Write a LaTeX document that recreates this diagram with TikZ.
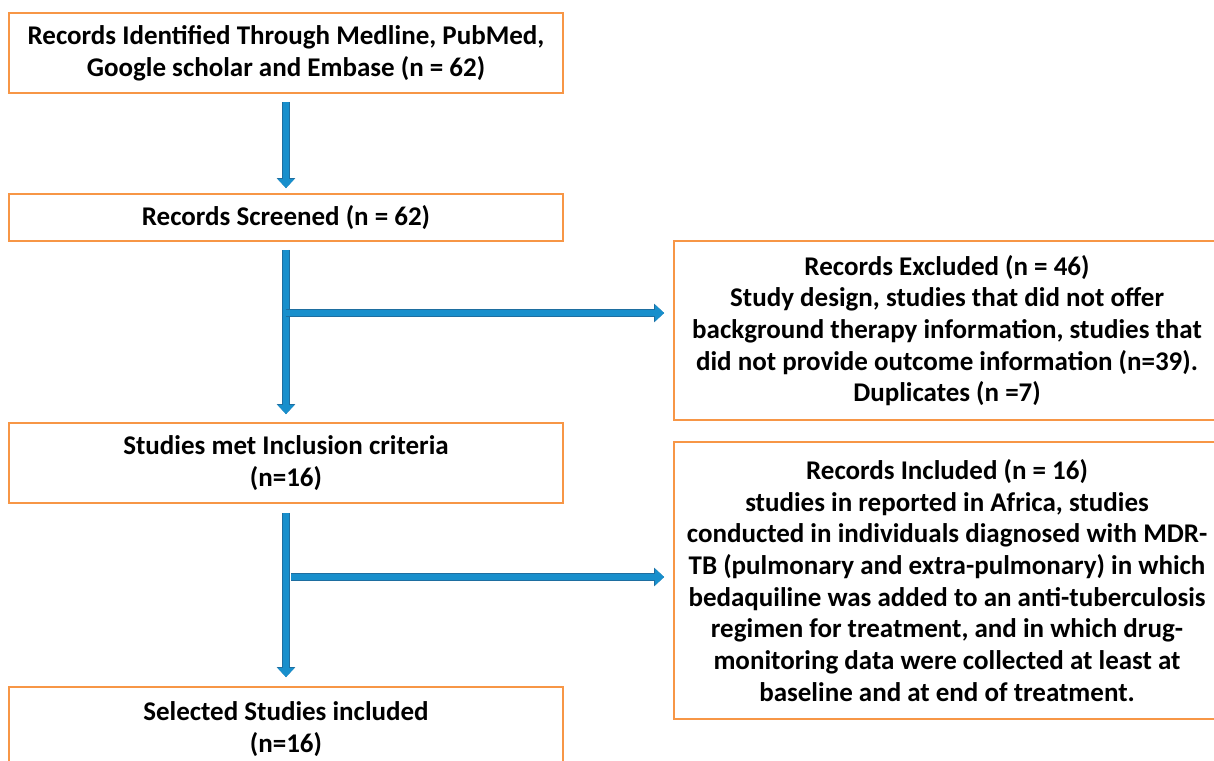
\documentclass[tikz,border=0pt]{standalone}
\usepackage{fontspec}
\setmainfont{Carlito}
\usetikzlibrary{arrows.meta,positioning}
\definecolor{boxorange}{RGB}{247,150,70}
\definecolor{arrowblue}{RGB}{24,143,204}
\definecolor{arrowedge}{RGB}{30,110,160}
\tikzset{
  box/.style={draw=boxorange, line width=1.8pt, minimum width=554pt, inner sep=0pt,
    align=center, font=\fontsize{27}{31.7}\selectfont\bfseries},
  flow/.style={line width=6pt, draw=arrowblue, -{Triangle[width=16pt,length=9pt]},
    preaction={draw=arrowedge, line width=7.4pt, -{Triangle[width=18pt,length=10pt]}}}
}
\begin{document}
\begin{tikzpicture}[x=1pt,y=-1pt]
\useasboundingbox (0,0) rectangle (1214,760);
\clip (0,0) rectangle (1214,760);
% left column
\node[box, minimum height=80pt] (ident) at (286,53) {Records Identified Through Medline, PubMed,\\ Google scholar and Embase (n = 62)};
\node[box, minimum height=47pt] (screen) at (286,217.5) {Records Screened (n = 62)};
\node[box, minimum height=80pt] (met) at (286,463) {Studies met Inclusion criteria\\ (n=16)};
\node[box, minimum height=84pt] (sel) at (286,729) {Selected Studies included\\ (n=16)};
% right column
\node[box, minimum width=546pt, minimum height=179pt] (excl) at (947,330.5) {Records Excluded (n = 46)\\ Study design, studies that did not offer\\ background therapy information, studies that\\ did not provide outcome information (n=39).\\ Duplicates (n =7)};
\node[box, minimum width=546pt, minimum height=277pt] (incl) at (947,580.5) {Records Included (n = 16)\\ studies in reported in Africa, studies\\ conducted in individuals diagnosed with MDR-\\ TB (pulmonary and extra-pulmonary) in which\\ bedaquiline was added to an anti-tuberculosis\\ regimen for treatment, and in which drug-\\ monitoring data were collected at least at\\ baseline and at end of treatment.};
% arrows
\coordinate (split1) at (286,313);
\coordinate (split2) at (286,577);
\draw[flow, shorten <=8pt, shorten >=5pt] (ident) -- (screen);
\draw[flow, shorten <=8pt, shorten >=8pt] (screen) -- (met);
\draw[flow, shorten <=9pt, shorten >=9pt] (met) -- (sel);
\draw[flow, shorten >=9pt] (split1) -- (split1 -| excl.west);
\draw[flow, shorten <=5pt, shorten >=9pt] (split2) -- (split2 -| incl.west);
\end{tikzpicture}
\end{document}
